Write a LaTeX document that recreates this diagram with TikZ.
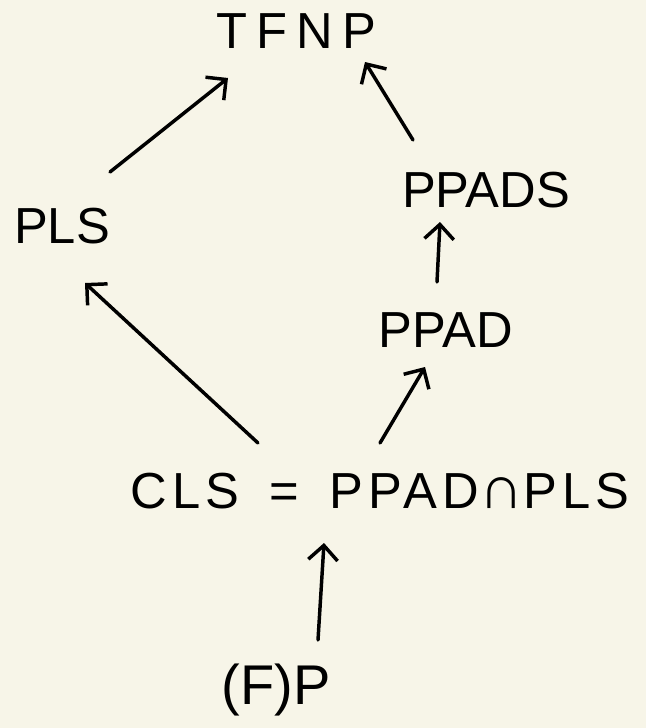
\documentclass[tikz,border=0pt]{standalone}
\usepackage{fontspec}
\setmainfont{Liberation Sans}
\usetikzlibrary{arrows.meta}
\definecolor{paper}{HTML}{F7F5E8}
\begin{document}
\begin{tikzpicture}[x=0.75pt,y=-0.75pt,
  lab/.style={font=\fontsize{38}{44}\selectfont, inner sep=0pt, anchor=center, text=black},
  arr/.style={line width=2.6pt, line cap=round, line join=round,
    -{Straight Barb[length=11pt,width=22pt,line width=2.6pt]}}]
\fill[paper] (0,0) rectangle (646,728);
\useasboundingbox (0,0) rectangle (646,728);
\node[lab] (tfnp) at (296,31) {\addfontfeature{LetterSpace=18}TFNP};
\node[lab] (pls) at (62,226) {PLS};
\node[lab] (ppads) at (486,190) {PPADS};
\node[lab] (ppad) at (446,330) {PPAD};
\node[lab] (cls) at (380,491) {\addfontfeature{LetterSpace=10}CLS\hspace{0.6em}=\hspace{0.6em}PPAD{\fontsize{46}{50}\selectfont∩}PLS};
\node[lab] (fp) at (276,690) {\fontsize{42}{46}\selectfont (F)P};
\draw[arr] ([shift={(48,-54)}]pls.center) -- ([shift={(-68,47)}]tfnp.center);
\draw[arr] ([shift={(-73,-50)}]ppads.center) -- ([shift={(69,31)}]tfnp.center);
\draw[arr] ([shift={(-9,-48)}]ppad.center) -- ([shift={(-46,32)}]ppads.center);
\draw[arr] ([shift={(0,-48)}]cls.center) -- ([shift={(-21,37)}]ppad.center);
\draw[arr] ([shift={(-122,-48)}]cls.center) -- ([shift={(23,57)}]pls.center);
\draw[arr] ([shift={(42,-50)}]fp.center) -- ([shift={(-56,52)}]cls.center);
\end{tikzpicture}
\end{document}
